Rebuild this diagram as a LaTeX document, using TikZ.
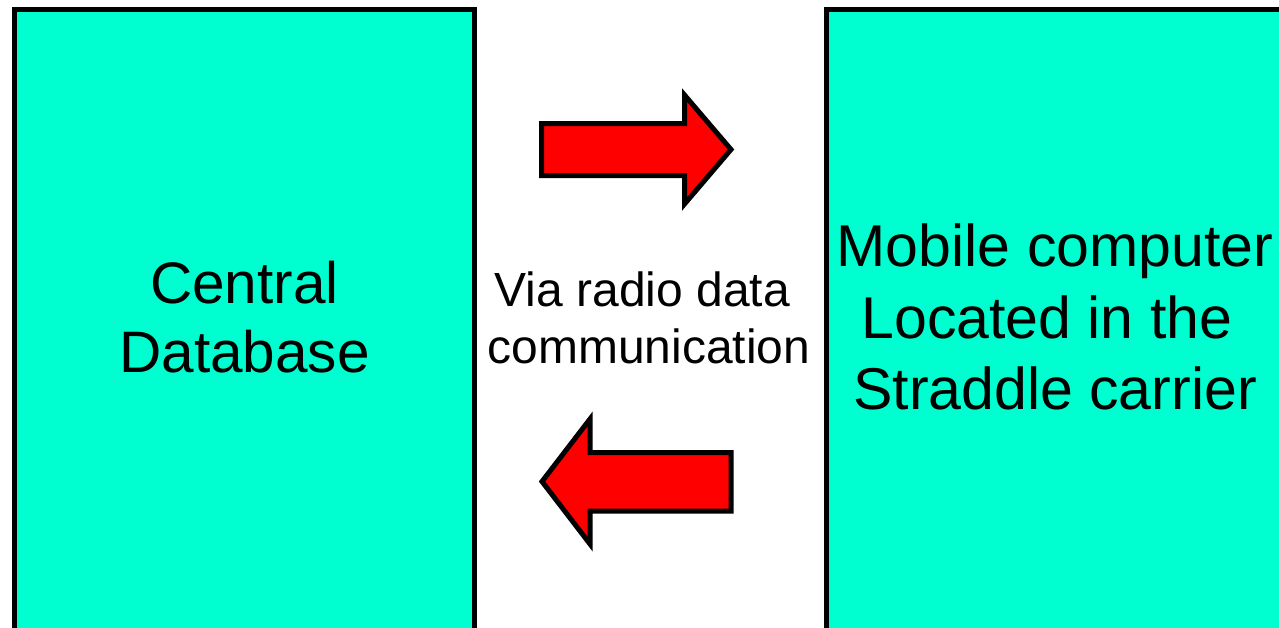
\documentclass[tikz,border=0pt]{standalone}
\usepackage{fontspec}
\setmainfont{Liberation Sans}
\usepackage{xcolor}
\usetikzlibrary{positioning, calc}
\definecolor{panelTeal}{RGB}{0, 255, 208}
\definecolor{arrowRed}{RGB}{255, 0, 0}

\begin{document}
\begin{tikzpicture}[
            x=0.02cm, y=-0.02cm,
            % Define Block Styles
            panel/.style={
                rectangle,
                draw=black,
                line width=0.1cm,
                fill=panelTeal,
                minimum width=9.2cm,
                minimum height=13.2cm,
                inner sep=0pt
            },
            biglabel/.style={
                align=center,
                inner sep=0pt,
                font=\fontsize{33.3}{39.5}\selectfont
            },
            smalllabel/.style={
                align=center,
                inner sep=0pt,
                font=\fontsize{27.3}{32.5}\selectfont
            },
            blockarrow/.style={
                draw=black,
                line width=0.1cm,
                fill=arrowRed,
                miter limit=4
            }
        ]

        % --- Frame ---
        \useasboundingbox (0,0) rectangle (1279,627);
        \clip (0,0) rectangle (1279,627);

        % --- Nodes ---
        \node [panel] (db) at (244.5,339) {};
        \node [panel, minimum width=9.16cm] (mobile) at (1055,339) {};
        \node [biglabel] (dblabel) at (244.5,317) {Central\\Database};
        \node [biglabel, font=\fontsize{33.6}{40.5}\selectfont] (mobilelabel) at (1055,317)
            {Mobile computer\\Located in the\hphantom{\ }\\Straddle carrier};
        \node [smalllabel] (via) at (649,318) {Via radio data\hphantom{\ }\\communication};

        % --- Arrows ---
        \draw [blockarrow] (541.5,123.5) -- (684.5,123.5) -- (684.5,95) -- (731,149.5)
            -- (684.5,204) -- (684.5,175.5) -- (541.5,175.5) -- cycle;
        \draw [blockarrow] (731,452.5) -- (590,452.5) -- (590,419) -- (542,481.5)
            -- (590,544) -- (590,511) -- (731,511) -- cycle;

        \end{tikzpicture}
\end{document}
